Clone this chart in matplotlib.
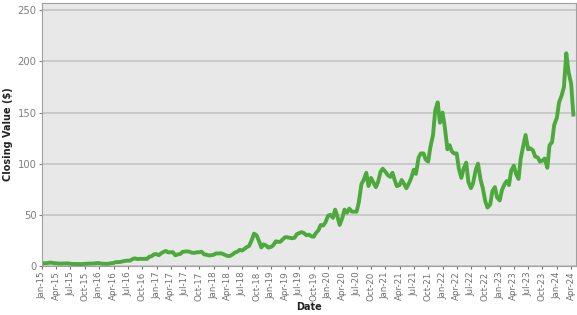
import matplotlib
matplotlib.use("Agg")
import matplotlib.pyplot as plt
import matplotlib.dates as mdates
import pandas as pd

# closing values, sampled on the 1st and 15th of each month
close_2015 = [2.67, 2.55, 2.65, 3.05, 3.15, 2.75, 2.45, 2.30, 2.25, 2.35, 2.35, 2.45,
              2.05, 1.85, 1.80, 1.75, 1.70, 1.75, 2.05, 2.15, 2.20, 2.35, 2.40, 2.75]
close_2016 = [2.65, 2.15, 2.10, 1.95, 2.15, 2.55, 2.80, 3.60, 3.65, 3.85, 4.50, 4.90,
              5.15, 5.10, 6.70, 7.35, 6.65, 6.90, 6.80, 6.90, 6.80, 8.90, 9.50, 11.30]
close_2017 = [11.40, 10.40, 12.50, 13.70, 14.60, 13.20, 13.30, 13.40, 10.30, 11.20, 11.60, 13.60,
              14.00, 14.20, 13.70, 12.80, 12.70, 13.30, 13.30, 13.80, 11.20, 10.90, 10.20, 10.40]
close_2018 = [10.90, 12.20, 12.10, 12.30, 11.60, 10.60, 9.60, 9.70, 11.20, 12.90, 13.90, 15.70,
              15.00, 16.50, 18.50, 19.50, 25.50, 31.50, 30.00, 25.00, 18.00, 21.00, 20.00, 17.80]
close_2019 = [18.50, 20.00, 24.00, 23.50, 23.50, 25.50, 28.00, 28.00, 27.50, 27.00, 27.50, 31.00,
              32.00, 33.00, 32.00, 30.00, 30.50, 29.00, 28.50, 32.00, 35.00, 40.00, 39.50, 42.50]
close_2020 = [49.0, 50.0, 47.0, 55.0, 48.0, 40.0, 47.0, 55.0, 52.0, 56.0, 53.0, 53.0,
              53.0, 62.0, 80.0, 84.0, 91.0, 78.0, 86.0, 82.0, 77.0, 82.0, 92.0, 95.0]
close_2021 = [92.0, 89.0, 87.0, 91.0, 84.0, 78.0, 79.0, 84.0, 80.0, 76.0, 81.0, 86.0,
              94.0, 90.0, 106.0, 110.0, 110.0, 104.0, 102.0, 116.0, 128.0, 152.0, 160.0, 140.0]
close_2022 = [150.0, 136.0, 114.0, 118.0, 112.0, 110.0, 110.0, 95.0, 86.0, 95.0, 101.0, 82.0,
              76.0, 81.0, 94.0, 100.0, 84.0, 76.0, 63.0, 57.0, 60.0, 73.0, 77.0, 67.0]
close_2023 = [64.0, 74.0, 80.0, 83.0, 79.0, 93.0, 98.0, 90.0, 85.0, 105.0, 118.0, 128.0,
              114.0, 115.0, 113.0, 107.0, 106.0, 102.0, 103.0, 105.0, 96.0, 118.0, 121.0, 138.0]
close_2024 = [145.0, 160.0, 167.0, 175.0, 208.0, 190.0, 178.0, 148.0]

values = (close_2015 + close_2016 + close_2017 + close_2018 + close_2019 +
          close_2020 + close_2021 + close_2022 + close_2023 + close_2024)
dates = pd.date_range("2015-01-01", periods=len(values), freq="SMS")

fig = plt.figure(figsize=(5.77, 3.15), dpi=100)
ax = fig.add_axes([0.073, 0.156, 0.925, 0.834])
ax.set_facecolor("#e8e8e8")

ax.plot(dates, values, color="#4caa3c", linewidth=2.8, solid_joinstyle="round")

ax.set_ylim(0, 257)
ax.set_yticks([0, 50, 100, 150, 200, 250])
ax.set_xlim(pd.Timestamp("2015-01-01"), pd.Timestamp("2024-05-01"))
ax.xaxis.set_major_locator(mdates.MonthLocator(bymonth=[1, 4, 7, 10]))
ax.xaxis.set_major_formatter(mdates.DateFormatter("%b-%y"))

ax.grid(axis="y", color="#c4c4c4", linewidth=1.2)
ax.set_axisbelow(True)
for s in ax.spines.values():
    s.set_color("#a0a0a0")

ax.tick_params(axis="x", labelrotation=90, labelsize=6.3, colors="#707070", length=2, pad=2)
ax.tick_params(axis="y", labelsize=7.2, colors="#808080", length=2, pad=2)

ax.set_xlabel("Date", fontsize=7, fontweight="bold", color="#222222", labelpad=1)
ax.set_ylabel("Closing Value ($)", fontsize=7, fontweight="bold", color="#222222", labelpad=3)

plt.savefig("out.png", dpi=100)
plt.close()
